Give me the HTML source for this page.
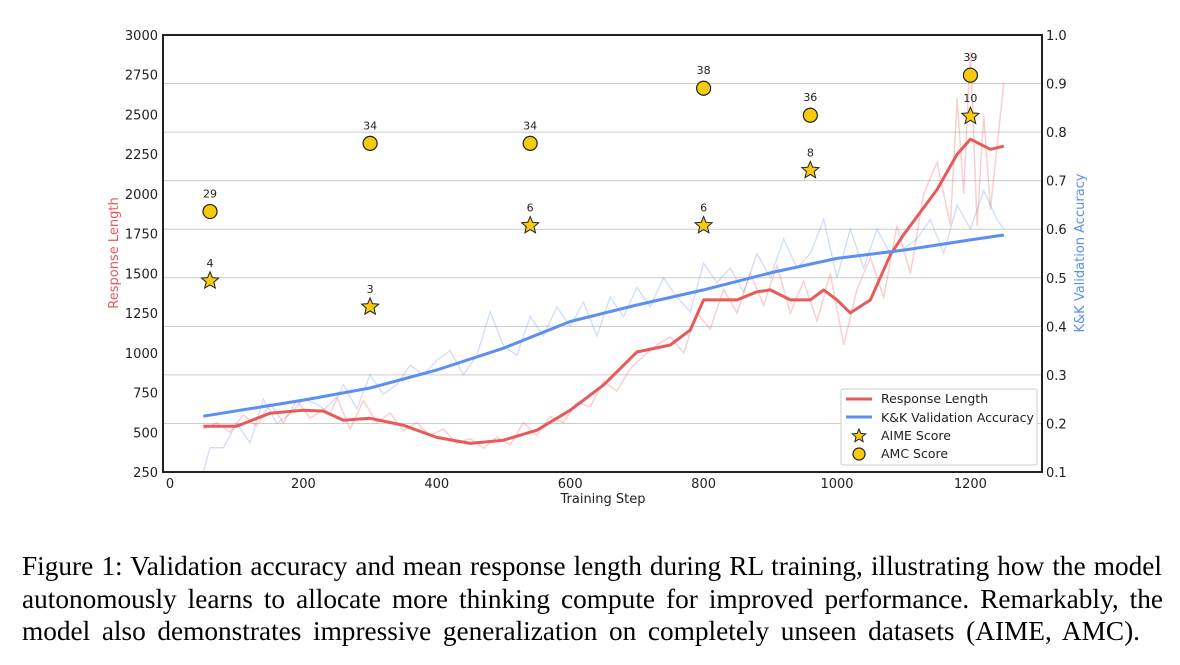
<!DOCTYPE html>
<html><head><meta charset="utf-8"><style>
body{margin:0;background:#fff;width:1180px;height:665px;overflow:hidden;font-family:"DejaVu Sans","Liberation Sans",sans-serif}
#cap{position:absolute;left:22px;top:550px;width:1160px;font-family:"Liberation Serif",serif;font-size:27.3px;line-height:32.5px;color:#000;white-space:nowrap}
#cap div{text-align:justify;text-align-last:justify}
</style></head><body>
<svg id="chart" width="1180" height="545" style="position:absolute;left:0;top:0"></svg>
<div id="cap"><div style="width:1140px">Figure 1: Validation accuracy and mean response length during RL training, illustrating how the model</div><div style="width:1141px">autonomously learns to allocate more thinking compute for improved performance. Remarkably, the</div><div style="width:1118px">model also demonstrates impressive generalization on completely unseen datasets (AIME, AMC).</div></div>
<script>
const lenSteps=[50,100,150,200,230,260,300,350,400,450,500,550,600,650,700,750,780,800,850,880,900,930,960,980,1000,1020,1050,1080,1100,1150,1180,1200,1230,1250];
const lenSmooth=[538,538,620,639,633,576,588,544,468,430,450,513,639,797,1005,1049,1144,1333,1333,1384,1396,1333,1333,1396,1333,1251,1333,1617,1744,2028,2249,2344,2281,2300];
const rawSteps=[50,70,90,110,130,150,170,190,210,230,250,270,290,310,330,350,370,390,410,430,450,470,490,510,530,550,570,590,610,630,650,670,690,710,730,750,770,790,810,830,850,870,890,910,930,950,970,990,1010,1030,1050,1070,1090,1110,1130,1150,1170,1180,1190,1200,1210,1220,1230,1240,1250];
const lenRaw=[520,560,500,610,540,680,560,700,590,640,720,520,700,560,620,510,560,480,520,430,460,400,470,420,560,480,600,560,690,660,820,760,900,980,1050,1100,1000,1250,1150,1400,1250,1500,1300,1550,1250,1450,1200,1500,1050,1400,1600,1350,1800,1500,2000,2200,1800,2600,2000,2900,1800,2500,1900,2300,2700];
const accSmoothSteps=[50,200,300,400,500,600,700,800,900,1000,1100,1200,1250];
const accSmooth=[0.215,0.248,0.273,0.31,0.355,0.41,0.444,0.475,0.51,0.54,0.557,0.578,0.588];
const accRawSteps=[50,60,80,100,120,140,160,180,200,220,240,260,280,300,320,340,360,380,400,420,440,460,480,500,520,540,560,580,600,620,640,660,680,700,720,740,760,780,800,820,840,860,880,900,920,940,960,980,1000,1020,1040,1060,1080,1100,1120,1140,1160,1180,1200,1220,1240,1250];
const accRaw=[0.1,0.15,0.15,0.2,0.16,0.25,0.2,0.22,0.25,0.24,0.22,0.28,0.23,0.3,0.26,0.28,0.32,0.3,0.33,0.35,0.3,0.34,0.43,0.36,0.34,0.42,0.38,0.44,0.4,0.45,0.38,0.46,0.42,0.48,0.44,0.5,0.46,0.43,0.53,0.49,0.52,0.47,0.55,0.5,0.58,0.52,0.55,0.62,0.5,0.6,0.52,0.6,0.55,0.56,0.58,0.62,0.55,0.65,0.6,0.68,0.62,0.6];
const ptSteps=[60,300,540,800,960,1200];
const amcPlot=[1889,2318,2318,2665,2495,2747];
const amcLabels=["29","34","34","38","36","39"];
const aimePlot=[1453,1289,1801,1801,2148,2489];
const aimeLabels=["4","3","6","6","8","10"];
const leftTicks=[250,500,750,1000,1250,1500,1750,2000,2250,2500,2750,3000];
const rightTicks=[0.1,0.2,0.3,0.4,0.5,0.6,0.7,0.8,0.9,1.0];
const xTicks=[0,200,400,600,800,1000,1200];

const svg=document.getElementById('chart');const NS='http://www.w3.org/2000/svg';
const L=163,R=1042,T=35,B=472;
const X=v=>170+v*(133.4/200);
const YL=v=>B-(v-250)/2750*(B-T);
const YR=v=>B-(v-0.1)/0.9*(B-T);
function mk(t,a,p){const e=document.createElementNS(NS,t);for(const k in a)e.setAttribute(k,a[k]);(p||svg).appendChild(e);return e;}
function txt(s,x,y,a){const e=mk('text',Object.assign({x:x,y:y,'font-size':13,fill:'#222'},a||{}));e.textContent=s;return e;}
rightTicks.forEach(v=>{if(v>0.1&&v<1.0){const g=mk('line',{x1:L,x2:R,y1:YR(v),y2:YR(v),stroke:'#ccc','stroke-width':1});

}});
function path(xs,ys,fx,fy,a){let d='';xs.forEach((s,i)=>{d+=(i?'L':'M')+fx(s).toFixed(1)+','+fy(ys[i]).toFixed(1);});return mk('path',Object.assign({d:d,fill:'none'},a));}
const p1=path(accRawSteps,accRaw,X,YR,{stroke:'#5b8ff2','stroke-opacity':0.3,'stroke-width':1.3});


const p2=path(rawSteps,lenRaw,X,YL,{stroke:'#f06060','stroke-opacity':0.3,'stroke-width':1.5});


const p3=path(lenSteps,lenSmooth,X,YL,{stroke:'#e85a5a','stroke-width':3,'stroke-linejoin':'round'});


const p4=path(accSmoothSteps,accSmooth,X,YR,{stroke:'#5b8ff2','stroke-width':3,'stroke-linejoin':'round'});


function star(cx,cy,r){let d='';for(let i=0;i<10;i++){const a=-Math.PI/2+i*Math.PI/5;const rr=i%2?r*0.45:r;d+=(i?'L':'M')+(cx+rr*Math.cos(a)).toFixed(1)+','+(cy+rr*Math.sin(a)).toFixed(1);}return d+'Z';}
ptSteps.forEach((s,i)=>{
const c=mk('circle',{cx:X(s),cy:YL(amcPlot[i]),r:7,fill:'#f7cb0c',stroke:'#222','stroke-width':1.2});


const t=txt(amcLabels[i],X(s),YL(amcPlot[i])-14,{'text-anchor':'middle','font-size':11});


const st=mk('path',{d:star(X(s),YL(aimePlot[i]),9),fill:'#f7cb0c',stroke:'#222','stroke-width':1});


const t2=txt(aimeLabels[i],X(s),YL(aimePlot[i])-14,{'text-anchor':'middle','font-size':11});

});
const fr=mk('rect',{x:L,y:T,width:R-L,height:B-T,fill:'none',stroke:'#222','stroke-width':2});


leftTicks.forEach(v=>{const t=txt(String(v),158,YL(v)+5,{'text-anchor':'end'});

});
rightTicks.forEach(v=>{const t=txt(v.toFixed(1),1046,YR(v)+5,{});

});
xTicks.forEach(v=>{const t=txt(String(v),X(v),488,{'text-anchor':'middle'});

});
const xt=txt('Training Step',603,503,{'text-anchor':'middle'});


const yl=txt('Response Length',118,253,{'text-anchor':'middle',fill:'#e85a5a',transform:'rotate(-90 118 253)'});


const yr=txt('K&K Validation Accuracy',1084,253,{'text-anchor':'middle',fill:'#5b8ff2',transform:'rotate(-90 1084 253)'});


const lg=mk('g',{});


mk('rect',{x:841,y:389,width:196,height:76,fill:'#fff','fill-opacity':0.9,stroke:'#ccc',rx:2},lg);
mk('line',{x1:846,x2:872,y1:399,y2:399,stroke:'#e85a5a','stroke-width':3},lg);
mk('line',{x1:846,x2:872,y1:417,y2:417,stroke:'#5b8ff2','stroke-width':3},lg);
mk('path',{d:star(859,436,7),fill:'#f7cb0c',stroke:'#222','stroke-width':1},lg);
mk('circle',{cx:859,cy:454,r:6,fill:'#f7cb0c',stroke:'#222','stroke-width':1.2},lg);
[['Response Length',403],['K&K Validation Accuracy',422],['AIME Score',440],['AMC Score',458]].forEach(a=>{const t=txt(a[0],881,a[1],{'font-size':12.5},lg);

});
</script>
</body></html>
